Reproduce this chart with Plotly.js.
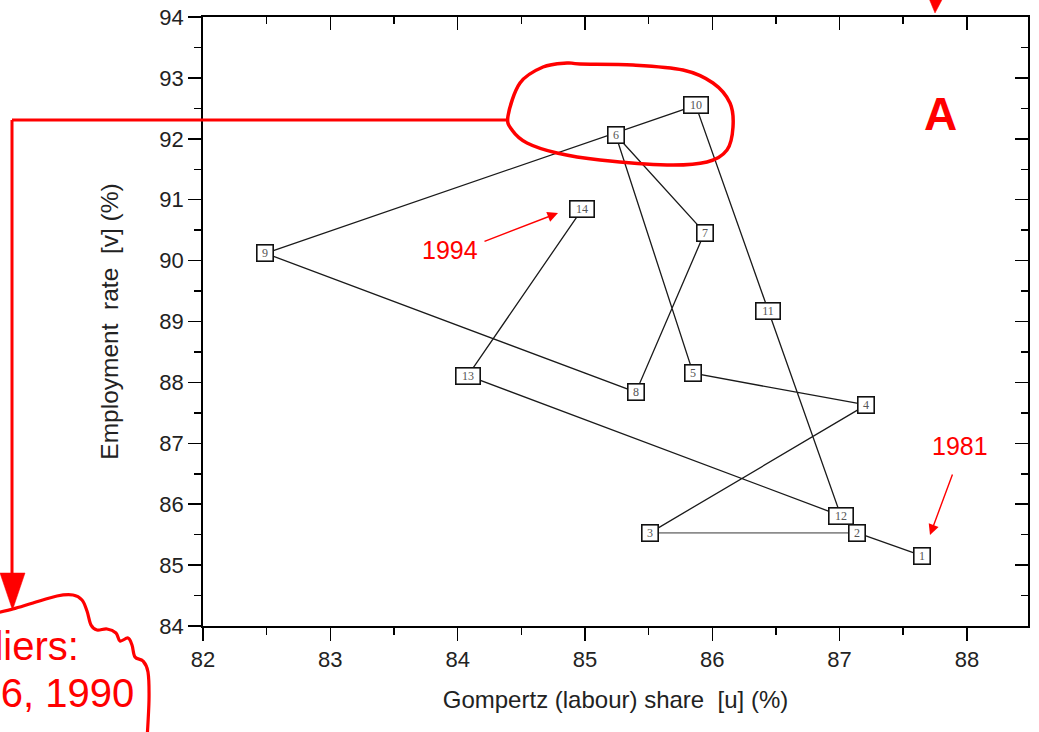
<!DOCTYPE html>
<html>
<head>
<meta charset="utf-8">
<script src="https://cdn.plot.ly/plotly-3.0.1.min.js"></script>
<style>html,body{margin:0;padding:0;background:#fff;overflow:hidden}</style>
</head>
<body>
<div id="chart" style="width:1039px;height:732px"></div>
<script>
// Year index of each observation (1 = 1981 ... 14 = 1994)
const pointLabels = ['1','2','3','4','5','6','7','8','9','10','11','12','13','14'];
// Gompertz (labour) share u, %
const labourShare = [87.65, 87.14, 85.51, 87.21, 85.85, 85.24, 85.94, 85.40, 82.49, 85.87, 86.44, 87.01, 84.08, 84.98];
// Employment rate v, %
const employmentRate = [85.15, 85.53, 85.53, 87.63, 88.15, 92.07, 90.46, 87.84, 90.12, 92.55, 89.18, 85.81, 88.11, 90.85];

const xTickVals = [82, 83, 84, 85, 86, 87, 88];
const yTickVals = [84, 85, 86, 87, 88, 89, 90, 91, 92, 93, 94];

const W = 1039, H = 732;
const M = {l: 203, r: 11, t: 17, b: 106};
const PW = W - M.l - M.r, PH = H - M.t - M.b;
// pixel -> paper coordinates for the hand-drawn callouts
const qx = x => (x - M.l) / PW;
const qy = y => (H - M.b - y) / PH;

function smoothPath(pts, closed) {
  const n = pts.length;
  const get = i => closed ? pts[(i + n) % n] : pts[Math.max(0, Math.min(n - 1, i))];
  let d = 'M' + qx(pts[0][0]) + ',' + qy(pts[0][1]);
  const last = closed ? n : n - 1;
  for (let i = 0; i < last; i++) {
    const p0 = get(i - 1), p1 = get(i), p2 = get(i + 1), p3 = get(i + 2);
    const c1 = [p1[0] + (p2[0] - p0[0]) / 6, p1[1] + (p2[1] - p0[1]) / 6];
    const c2 = [p2[0] - (p3[0] - p1[0]) / 6, p2[1] - (p3[1] - p1[1]) / 6];
    d += ' C' + qx(c1[0]) + ',' + qy(c1[1]) + ' ' + qx(c2[0]) + ',' + qy(c2[1]) + ' ' + qx(p2[0]) + ',' + qy(p2[1]);
  }
  return closed ? d + ' Z' : d;
}
function polyPath(pts) {
  return 'M' + pts.map(p => qx(p[0]) + ',' + qy(p[1])).join(' L') + ' Z';
}

// Path 1 -> 2 and 3 -> 14 in black, the 2 -> 3 step in grey
const blackX = [labourShare[0], labourShare[1], null].concat(labourShare.slice(2));
const blackY = [employmentRate[0], employmentRate[1], null].concat(employmentRate.slice(2));

const traces = [
  {x: blackX, y: blackY, type: 'scatter', mode: 'lines', connectgaps: false,
   line: {color: '#1a1a1a', width: 1.3}, hoverinfo: 'skip', showlegend: false},
  {x: labourShare.slice(1, 3), y: employmentRate.slice(1, 3), type: 'scatter', mode: 'lines',
   line: {color: '#8c8c8c', width: 1.7}, hoverinfo: 'skip', showlegend: false},
  {x: [], y: [], xaxis: 'x2', yaxis: 'y2', type: 'scatter', mode: 'markers', showlegend: false}
];

const sans = 'Liberation Sans, Arial, sans-serif';
const tickFont = {family: sans, size: 22, color: '#222'};

// Numbered boxes at each observation
const boxAnnotations = pointLabels.map((lab, i) => ({
  x: labourShare[i], y: employmentRate[i], xref: 'x', yref: 'y',
  xanchor: 'center', yanchor: 'middle',
  text: lab, showarrow: false,
  font: {family: 'Liberation Serif, Times New Roman, serif', size: 12, color: '#555'},
  bgcolor: '#fff', bordercolor: '#111', borderwidth: 1.6, borderpad: 0,
  width: lab.length > 1 ? 23 : 15, height: 15
}));

const red = '#ff0000';
function label(px, py, text, size, xanchor) {
  return {x: qx(px), y: qy(py), xref: 'paper', yref: 'paper', xanchor: xanchor || 'center', yanchor: 'middle',
          text: text, showarrow: false, font: {family: sans, size: size, color: red}};
}
function pointer(tipX, tipY, ax, ay) {
  return {x: qx(tipX), y: qy(tipY), xref: 'paper', yref: 'paper', text: '', showarrow: true,
          ax: ax, ay: ay, arrowcolor: red, arrowwidth: 1.4, arrowhead: 2, arrowsize: 1.5};
}
const callouts = [
  label(940, 114, '<b>A</b>', 46),
  label(960, 446, '1981', 25),
  pointer(930, 535, 23, -62),
  label(450, 250, '1994', 25),
  pointer(558, 213, -75, 29),
  label(81, 646, 'Outliers:', 40, 'right'),
  label(136, 693, '1986, 1990', 40, 'right')
];

const ellipsePts = [[508,116],[520,83],[543,67],[567,63],[580,64],[633,65],[683,70],[713,83],[730,103],[733,127],[727,150],[707,162],[667,165],[600,160],[557,153],[527,143],[512,130]];
const cloudPts = [[-4,613],[13,609],[33,603],[57,596],[73,595],[82,600],[87,611],[91,625],[97,630],[107,629],[116,633],[120,641],[128,638],[132,645],[135,657],[143,661],[148,672],[149,700],[147,740]];

const shapes = [
  {type: 'path', xref: 'paper', yref: 'paper', path: smoothPath(ellipsePts, true), line: {color: red, width: 3.5}},
  {type: 'path', xref: 'paper', yref: 'paper', path: smoothPath(cloudPts, false), line: {color: red, width: 3.2}},
  {type: 'line', xref: 'paper', yref: 'paper', x0: qx(508), y0: qy(120), x1: qx(12), y1: qy(120), line: {color: red, width: 3}},
  {type: 'line', xref: 'paper', yref: 'paper', x0: qx(12), y0: qy(120), x1: qx(12), y1: qy(576), line: {color: red, width: 3}},
  {type: 'path', xref: 'paper', yref: 'paper', path: polyPath([[0,573],[25,573],[12.5,610]]), fillcolor: red, line: {color: red, width: 0.5}},
  {type: 'path', xref: 'paper', yref: 'paper', path: polyPath([[928,-4],[944,-4],[935,13]]), fillcolor: red, line: {color: red, width: 0.5}}
];

const xRange = [82, 88.48], yRange = [84, 94];
const axisCommon = {
  showgrid: false, zeroline: false, showline: true, linecolor: '#000', linewidth: 1.8,
  tickcolor: '#000', tickwidth: 1.5, ticklen: 13
};

const layout = {
  width: W, height: H, margin: M,
  paper_bgcolor: '#fff', plot_bgcolor: '#fff', showlegend: false,
  xaxis: Object.assign({}, axisCommon, {
    range: xRange, tickvals: xTickVals, ticks: 'outside', tickfont: tickFont,
    minor: {dtick: 0.5, ticks: 'outside', ticklen: 7, tickwidth: 1.5, tickcolor: '#000'},
    title: {text: 'Gompertz (labour) share\u00a0\u00a0[u] (%)', font: {family: sans, size: 24, color: '#222'}, standoff: 20}
  }),
  yaxis: Object.assign({}, axisCommon, {
    range: yRange, tickvals: yTickVals, ticks: 'outside', tickfont: tickFont,
    minor: {dtick: 0.5, ticks: 'outside', ticklen: 7, tickwidth: 1.5, tickcolor: '#000'},
    title: {text: 'Employment\u00a0\u00a0rate\u00a0\u00a0[v] (%)', font: {family: sans, size: 24.5, color: '#222'}, standoff: 34}
  }),
  xaxis2: Object.assign({}, axisCommon, {
    overlaying: 'x', side: 'top', anchor: 'y2', range: xRange, tickvals: xTickVals,
    ticks: 'inside', showticklabels: false,
    minor: {dtick: 0.5, ticks: 'inside', ticklen: 7, tickwidth: 1.5, tickcolor: '#000'}
  }),
  yaxis2: Object.assign({}, axisCommon, {
    overlaying: 'y', side: 'right', anchor: 'x2', range: yRange, tickvals: yTickVals,
    ticks: 'inside', showticklabels: false,
    minor: {dtick: 0.5, ticks: 'inside', ticklen: 7, tickwidth: 1.5, tickcolor: '#000'}
  }),
  annotations: boxAnnotations.concat(callouts),
  shapes: shapes
};

Plotly.newPlot('chart', traces, layout, {staticPlot: true, displayModeBar: false});
</script>
</body>
</html>
